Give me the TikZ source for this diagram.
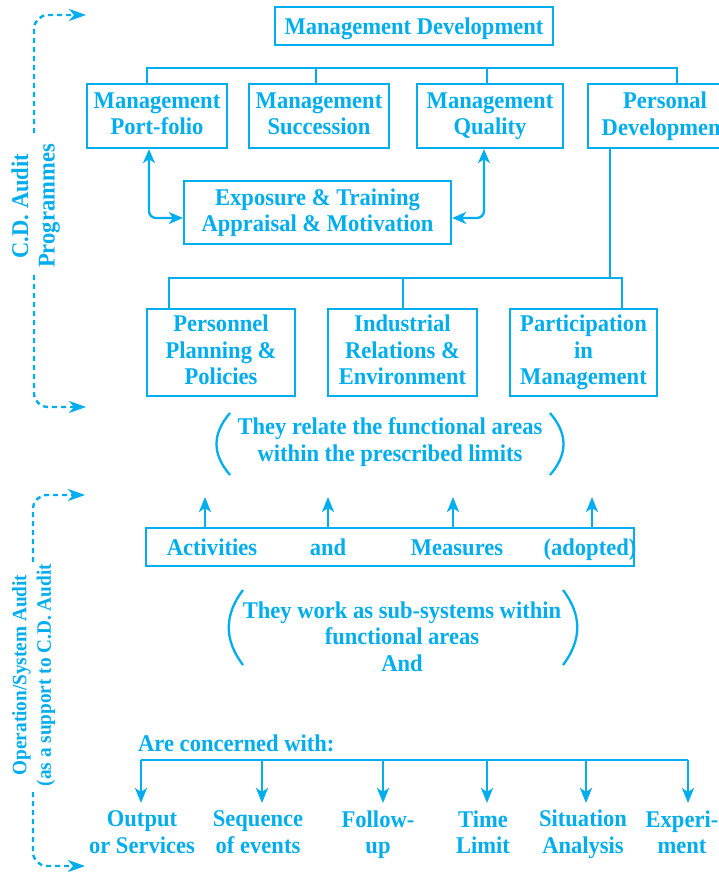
\documentclass[tikz,border=0pt]{standalone}
\usepackage{fontspec}
\setmainfont[FakeStretch=0.94]{Liberation Serif}
\usetikzlibrary{arrows.meta}
\definecolor{cy}{RGB}{0,174,239}
\newcommand\mfont{\bfseries\fontsize{24}{26.5}\selectfont}
\newcommand\sfont{\bfseries\fontsize{20.5}{24.5}\selectfont}
\newcommand\mstrut{\rule[-4.75pt]{0pt}{26.5pt}}
\newcommand\astrut{\rule[-7.75pt]{0pt}{26.5pt}}
\newcommand\sstrut{\rule[-7pt]{0pt}{24.5pt}}
\begin{document}
\begin{tikzpicture}[x=1pt,y=-1pt,
  line/.style={draw=cy, line width=2.3pt},
  box/.style={draw=cy, line width=2.3pt, text=cy, align=center, inner sep=0pt, font=\mfont,
    execute at begin node=\mstrut, execute at end node=\mstrut},
  txt/.style={text=cy, align=center, inner sep=0pt, font=\mfont,
    execute at begin node=\mstrut, execute at end node=\mstrut},
  sidea/.style={text=cy, align=center, inner sep=0pt, font=\mfont, rotate=90,
    execute at begin node=\astrut, execute at end node=\astrut},
  sideb/.style={text=cy, align=center, inner sep=0pt, font=\sfont, rotate=90,
    execute at begin node=\sstrut, execute at end node=\sstrut},
  arr/.style={line, -{Stealth[length=15pt,width=12pt,inset=4pt]}},
  darr/.style={line, {Stealth[length=14pt,width=12pt,inset=4pt]}-{Stealth[length=14pt,width=12pt,inset=4pt]}, rounded corners=7pt},
  dashline/.style={draw=cy, line width=2.4pt, dash pattern=on 5pt off 4pt, rounded corners=14pt, -{Stealth[length=17pt,width=12pt,inset=5pt]}}
]
\useasboundingbox (0,0) rectangle (719,875);
\clip (0,0) rectangle (719,875);
\fill[white] (0,0) rectangle (719,875);

% top
\node[box, minimum width=278pt, minimum height=38pt] (md) at (414,26) {Management Development};
\node[box, minimum width=140pt, minimum height=64pt] (b1) at (157,116) {Management\\Port-folio};
\node[box, minimum width=140pt, minimum height=64pt] (b2) at (319,116) {Management\\Succession};
\node[box, minimum width=146pt, minimum height=64pt] (b3) at (490,116) {Management\\Quality};
\node[box, minimum width=154pt, minimum height=64pt] (b4) at (665,116) {Personal\\Development};

\coordinate (v1) at (147,68);
\coordinate (v2) at (316,68);
\coordinate (v3) at (487,68);
\coordinate (v4) at (677,68);
\draw[line] (v1 |- b1.north) -- (v1) -- (v4) -- (v4 |- b4.north);
\draw[line] (v2) -- (v2 |- b2.north);
\draw[line] (v3) -- (v3 |- b3.north);

\node[box, minimum width=267pt, minimum height=63pt] (ex) at (317.5,212.5) {Exposure \& Training\\Appraisal \& Motivation};
\coordinate (e1) at (149,218);
\coordinate (e2) at (484,218);
\draw[darr] (b1.south -| e1) |- (ex.west |- e1);
\draw[darr] (b3.south -| e2) |- (ex.east |- e2);

% third row
\node[box, minimum width=148pt, minimum height=87pt] (p1) at (221,352.5) {Personnel\\Planning \&\\Policies};
\node[box, minimum width=149pt, minimum height=87pt] (p2) at (402.5,352.5) {Industrial\\Relations \&\\Environment};
\node[box, minimum width=147pt, minimum height=87pt] (p3) at (583.5,352.5) {Participation\\in\\Management};
\coordinate (h0) at (610,278);
\coordinate (h1) at (169,278);
\coordinate (h2) at (403,278);
\coordinate (h3) at (622,278);
\draw[line] (b4.south -| h0) -- (h0);
\draw[line] (h1 |- p1.north) -- (h1) -- (h3) -- (h3 |- p3.north);
\draw[line] (h2) -- (h2 |- p2.north);

% relate text
\node[txt] (t1) at (390,442) {They relate the functional areas\\within the prescribed limits};
\draw[line] (230,413) .. controls (212,434) and (212,454) .. (230,475);
\draw[line] (550,413) .. controls (568,434) and (568,454) .. (550,475);

% activities
\node[draw=cy, line width=2.3pt, minimum width=488pt, minimum height=38pt, inner sep=0pt] (act) at (390,547) {};
\node[txt] (w1) at (212,547) {Activities};
\node[txt] (w2) at (328,547) {and};
\node[txt] (w3) at (457,547) {Measures};
\node[txt] (w4) at (590,547) {(adopted)};
\coordinate (u1) at (205,497);
\coordinate (u2) at (328,497);
\coordinate (u3) at (453,497);
\coordinate (u4) at (592,497);
\foreach \u in {u1,u2,u3,u4} \draw[arr] (act.north -| \u) -- (\u);

% work text
\node[txt] (t2) at (402,639) {They work as sub-systems within\\functional areas\\And};
\draw[line] (243,590) .. controls (224,615) and (224,640) .. (243,665);
\draw[line] (563,590) .. controls (582,615) and (582,640) .. (563,665);

% concerned
\node[txt, anchor=west] (cw) at (138,743) {Are concerned with:};
\coordinate (d1) at (141,760);
\coordinate (d2) at (262,760);
\coordinate (d3) at (383,760);
\coordinate (d4) at (487,760);
\coordinate (d5) at (586,760);
\coordinate (d6) at (688,760);
\draw[line] (d1) -- (d6);
\node[txt] (o1) at (142,834.5) {Output\\or Services};
\node[txt] (o2) at (258,834.5) {Sequence\\of events};
\node[txt] (o3) at (378,834.5) {Follow-\\up};
\node[txt] (o4) at (483,834.5) {Time\\Limit};
\node[txt] (o5) at (583,834.5) {Situation\\Analysis};
\node[txt] (o6) at (682,834.5) {Experi-\\ment};
\foreach \d in {d1,d2,d3,d4,d5,d6} \draw[arr] (\d) -- ++(0,43);

% side labels
\node[sidea] (s1) at (37,206) {C.D. Audit\\Programmes};
\node[sideb] (s2) at (35,675) {Operation/System Audit\\(as a support to C.D. Audit};
\coordinate (a1) at (86,15);
\coordinate (a2) at (86,407);
\coordinate (a3) at (85,495);
\coordinate (a4) at (85,866);
\draw[dashline] (34,133) -- (34,15) -- (a1);
\draw[dashline] (34,275) -- (34,407) -- (a2);
\draw[dashline] (33,562) -- (33,495) -- (a3);
\draw[dashline] (33,792) -- (33,866) -- (a4);
\end{tikzpicture}
\end{document}
